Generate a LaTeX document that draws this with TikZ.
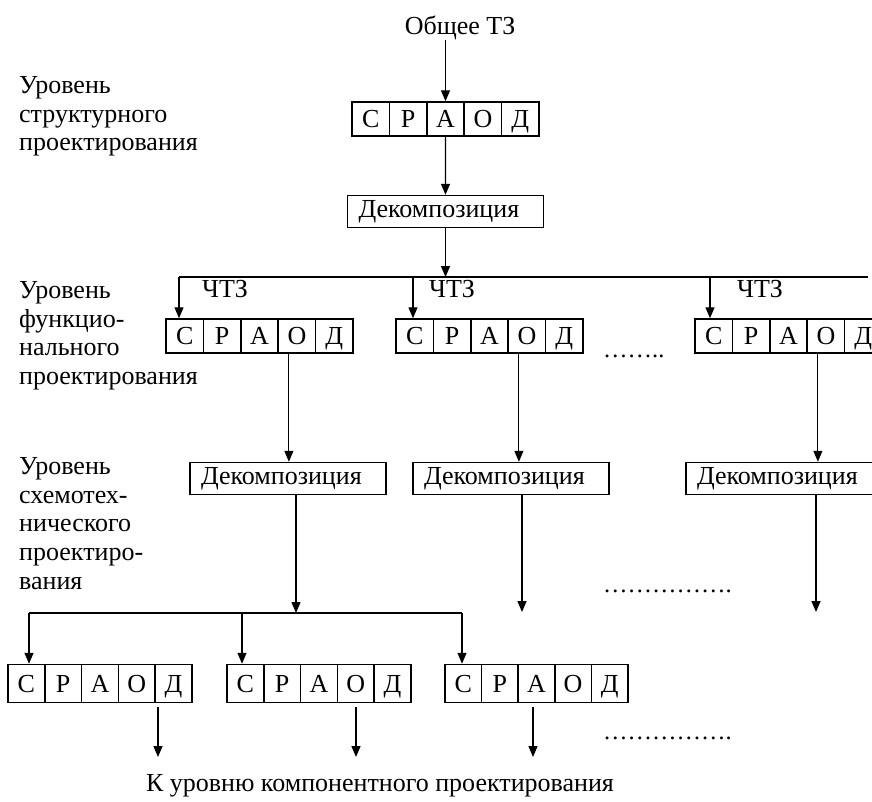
\documentclass[tikz,border=0pt]{standalone}
\usepackage{fontspec}
\setmainfont{Liberation Serif}
\usetikzlibrary{arrows.meta}
\newcommand\sraodbox[5]{% name, left x, center y, cell width, height
  \foreach \i/\l in {1/С,2/Р,3/А,4/О,5/Д}{
    \node[cell, minimum width=#4pt, minimum height=#5pt] (#1-\i) at ({#2+(\i-0.5)*#4}, #3) {\l};
  }}
\begin{document}
\begin{tikzpicture}[x=1pt,y=-1pt,
  every node/.style={font=\fontsize{26}{28.8}\selectfont, inner sep=0pt},
  cell/.style={draw, line width=1.5pt, text height=17pt, text depth=0pt},
  decbox/.style={draw, line width=1.5pt, text width=174pt, inner xsep=11pt, align=left, minimum height=32pt},
  arr/.style={line width=1.4pt, -{Triangle[length=11pt,width=9pt]}},
  thinarr/.style={arr, line width=1pt},
  ln/.style={line width=1.4pt},
  lvl/.style={align=left, anchor=north west},
  dots/.style={anchor=base west, font=\fontsize{24.5}{28}\selectfont}]
\useasboundingbox (0,0) rectangle (872,801);
\clip (0,0) rectangle (872,801);
% left labels
\node[lvl] (l1) at (19,76) {Уровень\\структурного\\проектирования};
\node[lvl] (l2) at (19,281) {Уровень\\функцио-\\нального\\проектирования};
\node[lvl] (l3) at (19,457) {Уровень\\схемотех-\\нического\\проектиро-\\вания};
% top
\node[anchor=base] (tz) at (460,34) {Общее ТЗ};
\sraodbox{t}{352}{119}{37.4}{34}
\draw[arr] (t-3.north |- tz.south) -- (t-3.north);
\node[decbox] (d0) at (445.5,211.5) {Декомпозиция};
\draw[arr] (t-3.south) -- (d0.north);
\coordinate (hc) at (445.5,277);
\draw[arr] (d0.south) -- (hc);
\coordinate (hl) at (179,277);
\coordinate (hr) at (868,277);
\draw[ln] (hl) -- (hr);
% middle row
\sraodbox{m1}{166}{336}{37.4}{34}
\sraodbox{m2}{396}{336}{37.4}{34}
\sraodbox{m3}{695}{336}{37.4}{34}
\coordinate (hb2) at (413,277);
\coordinate (hb3) at (710,277);
\draw[arr] (hl) -- (hl |- m1-1.north);
\draw[arr] (hb2) -- (hb2 |- m2-1.north);
\draw[arr] (hb3) -- (hb3 |- m3-1.north);
\node[anchor=base] (c1) at (225,297) {ЧТЗ};
\node[anchor=base] (c2) at (452,297) {ЧТЗ};
\node[anchor=base] (c3) at (760,297) {ЧТЗ};
\node[dots] (dt1) at (603,357) {……..};
% decomposition row
\node[decbox] (d1) at (288,478.5) {Декомпозиция};
\node[decbox] (d2) at (511,478.5) {Декомпозиция};
\node[decbox] (d3) at (784,478.5) {Декомпозиция};
\draw[thinarr] ([xshift=-8pt]m1-4.south) -- ([xshift=-8pt]m1-4.south |- d1.north);
\draw[thinarr] ([xshift=-8pt]m2-4.south) -- ([xshift=-8pt]m2-4.south |- d2.north);
\draw[thinarr] ([xshift=-8pt]m3-4.south) -- ([xshift=-8pt]m3-4.south |- d3.north);
\coordinate (j1) at (296,613);
\coordinate (e2) at (522,612);
\coordinate (e3) at (816,612);
\draw[arr] (j1 |- d1.south) -- (j1);
\draw[arr] (e2 |- d2.south) -- (e2);
\draw[arr] (e3 |- d3.south) -- (e3);
\node[dots] (dt2) at (603,592) {…………….};
% bottom row
\coordinate (bl) at (29,613);
\coordinate (bm) at (242,613);
\coordinate (br) at (462,613);
\draw[ln] (bl) -- (br);
\sraodbox{b1}{8}{683.5}{36.8}{38}
\sraodbox{b2}{227}{683.5}{36.8}{38}
\sraodbox{b3}{445}{683.5}{36.6}{38}
\draw[arr] (bl) -- (bl |- b1-1.north);
\draw[arr] (bm) -- (bm |- b2-1.north);
\draw[arr] (br) -- (br |- b3-1.north);
\coordinate (o1) at (158,757);
\coordinate (o2) at (356,757);
\coordinate (o3) at (533,757);
\draw[arr, shorten <=4pt] (o1 |- b1-5.south) -- (o1);
\draw[arr, shorten <=4pt] (o2 |- b2-4.south) -- (o2);
\draw[arr, shorten <=4pt] (o3 |- b3-3.south) -- (o3);
\node[dots] (dt3) at (603,739) {…………….};
\node[anchor=base] (kt) at (380,791) {К уровню компонентного проектирования};
\end{tikzpicture}
\end{document}
